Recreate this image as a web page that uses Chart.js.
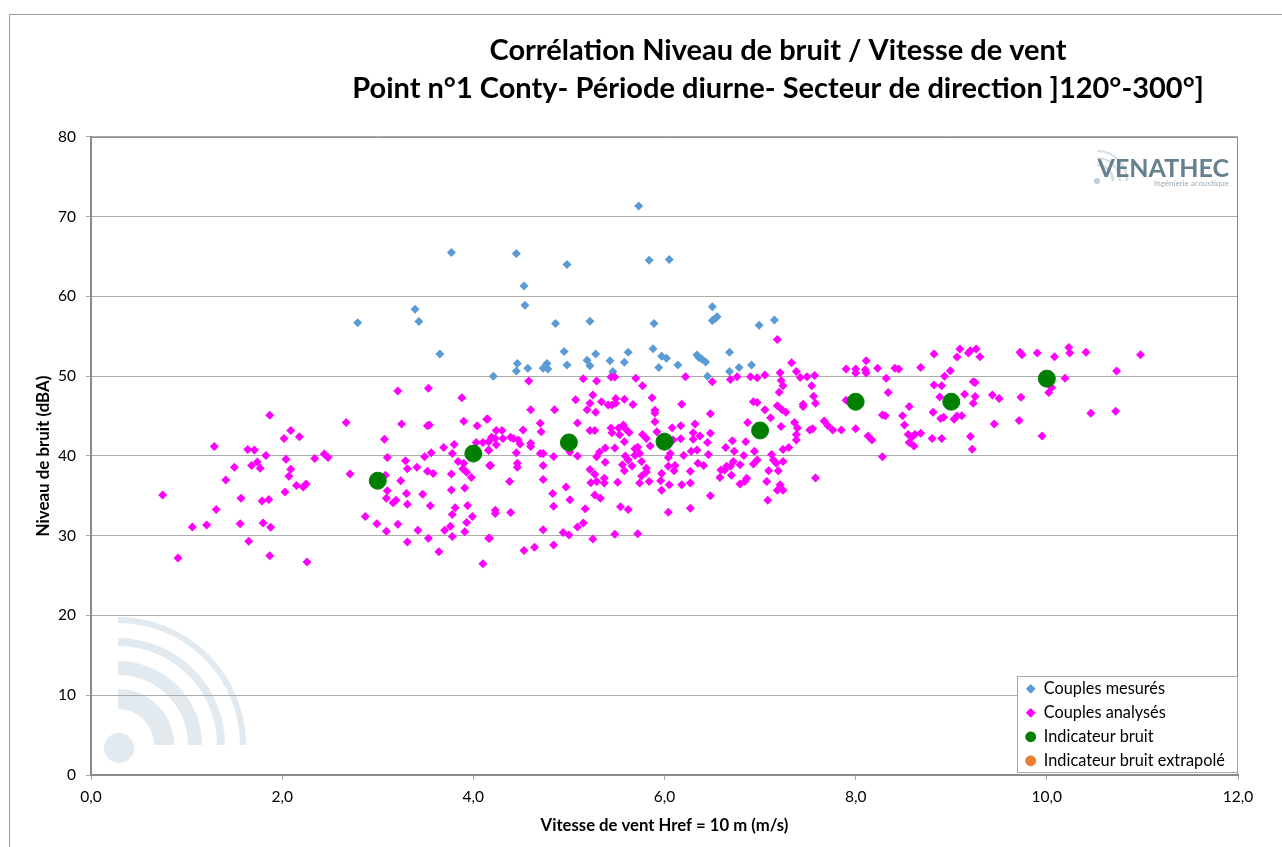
<!DOCTYPE html>
<html lang="fr">
<head>
<meta charset="utf-8">
<title>Corrélation Niveau de bruit / Vitesse de vent</title>
<style>
  html, body { margin: 0; padding: 0; background: #fff; overflow: hidden; }
  canvas { display: block; }
</style>
</head>
<body>
<canvas id="graphique" width="1282" height="847"></canvas>
<script src="https://cdn.jsdelivr.net/npm/chart.js@4"></script>
<script>
// Textes du graphique
const titre = ['Corrélation Niveau de bruit / Vitesse de vent', 'Point n°1 Conty- Période diurne- Secteur de direction ]120°-300°]'];
const titreAxeX = 'Vitesse de vent Href = 10 m (m/s)';
const titreAxeY = 'Niveau de bruit (dBA)';
const nomsSeries = ['Couples mesurés', 'Couples analysés', 'Indicateur bruit', 'Indicateur bruit extrapolé'];

// Couples [vitesse, niveau]
const couplesMesures = [
  [5.73,71.35],[3.77,65.5],[4.45,65.4],[5.84,64.55],[6.05,64.65],[4.98,64.0],[4.53,61.3],[4.54,58.9],
  [3.39,58.4],[2.79,56.7],[3.43,56.85],[4.86,56.6],[5.22,56.9],[5.89,56.6],[6.50,58.7],[6.50,57.0],
  [6.53,57.25],[6.55,57.45],[6.99,56.4],[7.15,57.05],[3.65,52.8],[4.21,50.0],[4.46,51.6],[4.45,50.65],
  [4.57,51.0],[4.73,51.0],[4.77,51.6],[4.78,50.9],[4.95,53.1],[4.98,51.4],[5.19,52.0],[5.22,51.3],
  [5.28,52.8],[5.43,51.95],[5.46,50.6],[5.58,51.75],[5.62,53.0],[5.88,53.45],[5.97,52.5],[6.02,52.25],
  [5.94,51.1],[6.14,51.4],[6.34,52.65],[6.36,52.35],[6.39,52.15],[6.43,51.8],[6.45,50.0],[6.68,53.0],
  [6.68,50.6],[6.78,51.1],[6.91,51.4]
];

const couplesAnalysesBas = [
  [3.21,48.15],[3.53,48.5],[3.88,47.3],[1.87,45.1],[2.67,44.2],[3.25,44.0],[3.52,43.8],[3.54,43.9],
  [3.90,44.35],[4.04,43.8],[4.14,44.6],[2.09,43.2],[2.02,42.2],[2.18,42.4],[3.07,42.1],[1.29,41.2],
  [1.64,40.8],[1.71,40.75],[1.83,40.05],[2.04,39.6],[2.34,39.7],[2.44,40.25],[2.48,39.8],[3.10,39.8],
  [3.29,39.4],[3.49,39.9],[3.56,40.4],[3.69,41.05],[3.80,41.45],[3.78,40.3],[4.03,41.7],[4.10,41.7],
  [4.16,40.75],[3.84,39.3],[3.90,39.1],[3.89,38.4],[3.93,37.95],[3.98,37.3],[3.77,37.75],[3.52,38.1],
  [3.58,37.8],[3.41,38.6],[3.31,38.4],[4.17,38.8],[1.50,38.6],[1.74,39.25],[1.68,38.8],[1.77,38.45],
  [2.09,38.35],[2.07,37.45],[1.41,37.0],[2.71,37.75],[3.24,36.9],[3.08,37.6],[3.10,35.65],[3.09,34.7],
  [3.19,34.45],[3.16,34.15],[3.30,35.3],[3.31,33.95],[3.47,35.2],[3.55,33.75],[3.77,35.75],[3.91,36.0],
  [3.81,33.5],[3.94,33.8],[3.78,32.65],[3.99,32.4],[3.93,31.65],[3.76,31.2],[3.70,30.7],[3.91,30.5],
  [3.78,29.9],[4.16,29.7],[3.42,30.7],[3.53,29.7],[3.31,29.2],[3.64,28.0],[4.10,26.5],[2.87,32.4],
  [2.99,31.5],[3.09,30.55],[3.21,31.45],[2.15,36.3],[2.22,36.1],[2.25,36.5],[2.03,35.5],[1.57,34.7],
  [1.79,34.35],[1.86,34.55],[1.31,33.3],[0.75,35.1],[1.06,31.1],[1.21,31.35],[1.56,31.5],[1.80,31.6],
  [1.88,31.05],[1.65,29.3],[0.91,27.2],[1.87,27.5],[2.26,26.7]
];

const couplesAnalysesMilieu = [
  [4.58,49.4],[5.15,49.7],[5.29,49.4],[5.44,49.9],[5.48,49.9],[5.70,49.75],[5.77,48.8],[6.22,49.95],
  [6.50,49.3],[6.69,49.6],[6.76,49.95],[6.90,49.95],[6.97,49.8],[7.05,50.15],[7.21,50.45],[7.33,51.7],
  [7.38,50.6],[7.42,49.85],[7.49,49.95],[7.57,50.1],[7.22,49.45],[7.24,48.8],[7.20,48.0],[7.54,48.8],
  [7.56,47.5],[7.58,46.6],[5.25,47.65],[5.07,47.05],[5.22,46.6],[5.19,45.8],[5.28,45.5],[5.34,46.8],
  [5.41,46.4],[5.45,46.4],[5.49,47.2],[5.49,46.6],[5.58,47.1],[5.67,46.45],[5.87,47.3],[5.90,45.75],
  [5.90,45.4],[5.90,44.3],[5.92,43.05],[6.18,46.5],[6.48,45.3],[6.93,46.8],[6.97,46.7],[7.05,45.8],
  [7.18,46.3],[7.23,45.8],[7.27,45.5],[7.11,44.8],[6.87,44.2],[7.45,46.5],[7.45,46.2],[7.67,44.4],
  [7.71,43.8],[7.36,44.2],[7.39,43.5],[7.22,43.7],[7.38,42.7],[7.38,42.0],[7.52,43.25],[7.55,43.4],
  [4.60,45.8],[4.85,45.8],[4.15,44.65],[4.70,44.1],[4.71,43.05],[4.52,43.25],[5.09,44.15],[5.22,43.2],
  [5.27,43.2],[4.24,43.2],[4.30,43.2],[4.19,42.35],[4.23,42.2],[4.16,41.8],[4.31,42.2],[4.39,42.35],
  [4.42,42.2],[4.47,42.0],[4.49,41.5],[4.24,41.4],[4.16,40.7],[4.45,40.4],[4.60,41.6],[4.60,41.2],
  [4.70,40.3],[4.73,40.3],[4.84,39.95],[5.01,40.5],[5.09,40.0],[4.18,38.8],[4.46,39.1],[4.46,38.6],
  [4.73,38.8],[4.73,37.05],[4.38,36.8],[4.97,36.1],[4.83,35.3],[5.01,34.5],[4.84,33.7],[4.23,33.2],
  [4.23,32.8],[4.39,32.9],[4.73,30.75],[4.94,30.4],[5.00,30.1],[5.09,31.1],[5.15,31.6],[5.17,33.4],
  [5.27,35.1],[5.33,34.7],[5.23,36.65],[5.29,36.8],[5.37,37.2],[5.37,36.6],[5.22,38.3],[5.27,37.7],
  [5.29,39.9],[5.32,40.5],[5.38,41.0],[5.48,41.0],[5.38,39.2],[5.51,36.7],[5.44,43.5],[5.45,42.9],
  [5.52,43.5],[5.57,43.9],[5.53,42.65],[5.58,41.8],[5.63,42.95],[5.59,43.4],[5.77,42.7],[5.81,42.2],
  [5.85,41.25],[5.69,40.9],[5.72,41.1],[5.74,40.3],[5.69,40.1],[5.59,40.0],[5.62,39.5],[5.56,38.9],
  [5.66,38.75],[5.58,38.15],[5.76,39.3],[5.81,38.45],[5.81,38.0],[5.76,37.5],[5.74,36.6],[5.84,36.8],
  [6.08,43.55],[6.17,43.8],[6.17,42.15],[6.09,42.0],[6.06,40.3],[6.04,39.8],[6.20,40.05],[6.04,38.7],
  [6.11,38.8],[6.10,38.15],[5.97,37.8],[5.96,36.9],[6.05,36.4],[5.97,35.7],[6.18,36.4],[6.27,36.6],
  [6.27,38.1],[6.32,44.0],[6.30,42.9],[6.37,42.5],[6.30,42.1],[6.48,42.85],[6.45,41.7],[6.28,40.6],
  [6.34,40.75],[6.46,40.2],[6.35,39.1],[6.41,38.8],[6.48,35.0],[6.27,33.45],[6.04,32.95],[5.54,33.65],
  [5.62,33.3],[5.48,30.2],[5.72,30.25],[5.25,29.6],[4.84,28.85],[4.17,29.7],[4.53,28.15],[4.64,28.55],
  [6.71,41.9],[6.64,41.05],[6.85,41.8],[6.73,40.6],[6.94,40.6],[6.83,40.05],[6.59,38.25],[6.58,37.3],
  [6.63,38.25],[6.70,37.6],[6.69,38.7],[6.72,39.3],[6.79,38.9],[6.65,38.7],[6.97,39.5],[6.93,39.0],
  [6.79,36.5],[6.86,37.2],[6.84,36.8],[7.12,40.2],[7.14,39.5],[7.17,39.1],[7.24,39.3],[7.24,40.8],
  [7.30,41.05],[7.09,38.15],[7.19,38.15],[7.07,36.8],[7.21,36.4],[7.18,35.7],[7.24,35.7],[7.08,34.45],
  [7.58,37.25],[7.18,54.6]
];

const couplesAnalysesHaut = [
  [7.76,43.25],[7.85,43.25],[8.00,43.4],[8.13,42.5],[8.17,42.0],[8.28,39.9],[7.90,50.9],[8.00,50.9],
  [8.00,50.4],[8.11,51.95],[8.10,50.8],[8.11,50.4],[8.23,51.0],[8.32,49.75],[8.41,51.0],[8.45,50.9],
  [8.68,51.1],[8.34,47.95],[7.90,47.0],[8.56,46.2],[8.28,45.15],[8.31,45.05],[8.49,45.05],[8.51,43.9],
  [8.55,42.7],[8.62,42.7],[8.68,42.85],[8.59,42.4],[8.56,41.7],[8.61,41.25],[8.80,42.2],[8.90,42.2],
  [8.82,52.8],[9.09,53.4],[9.06,52.4],[9.18,52.9],[9.20,53.2],[9.26,53.4],[9.30,52.45],[8.99,50.7],
  [8.93,50.0],[8.82,48.9],[8.90,48.8],[8.88,47.4],[9.23,49.3],[9.25,49.2],[9.14,47.75],[9.25,47.45],
  [9.23,46.6],[8.81,45.5],[8.89,44.7],[8.92,44.85],[9.03,44.6],[9.06,45.0],[9.11,45.05],[9.43,47.65],
  [9.50,47.2],[9.73,47.35],[9.45,44.0],[9.71,44.45],[9.20,42.45],[9.22,40.85],[9.95,42.5],[9.72,53.0],
  [9.74,52.7],[9.90,52.9],[10.08,52.45],[10.23,53.6],[10.24,52.9],[10.41,53.0],[10.98,52.7],[10.73,50.65],
  [10.19,49.75],[10.05,48.6],[10.02,47.95],[10.46,45.35],[10.72,45.6]
];

const indicateurVitesse = [3, 4, 5, 6, 7, 8, 9, 10];
const indicateurNiveau = [36.9, 40.3, 41.7, 41.8, 43.2, 46.8, 46.8, 49.7];
const indicateurExtrapole = [];

const versPoints = couples => couples.map(c => ({ x: c[0], y: c[1] }));
const couplesAnalyses = [...couplesAnalysesBas, ...couplesAnalysesMilieu, ...couplesAnalysesHaut];

const POLICE = 'Lato';
const GRIS_AXE = '#8a8a8a';

// Cadre extérieur, filigrane et logo, sous les axes
const decor = {
  id: 'decor',
  beforeDraw(chart) {
    const c = chart.ctx;
    c.save();
    c.strokeStyle = '#9a9a9a';
    c.lineWidth = 1;
    c.beginPath();
    c.moveTo(9.5, 847);
    c.lineTo(9.5, 14.5);
    c.lineTo(1282, 14.5);
    c.stroke();

    // Ondes en bas à gauche
    c.strokeStyle = '#e2e9ef';
    [[125, 6], [103, 8], [77, 14], [46, 20]].forEach(([r, e]) => {
      c.lineWidth = e;
      c.beginPath();
      c.arc(118, 745, r, -Math.PI / 2, 0);
      c.stroke();
    });
    c.fillStyle = '#e2e9ef';
    c.beginPath();
    c.arc(119, 748, 15, 0, Math.PI * 2);
    c.fill();

    // Logo en haut à droite
    c.filter = 'blur(0.7px)';
    c.strokeStyle = '#d3dee6';
    [[30, 2], [23, 2], [16, 3]].forEach(([r, e]) => {
      c.lineWidth = e;
      c.beginPath();
      c.arc(1097, 181, r, -Math.PI / 2, 0);
      c.stroke();
    });
    c.fillStyle = '#bccbd6';
    c.beginPath();
    c.arc(1097, 181, 3, 0, Math.PI * 2);
    c.fill();
    c.fillStyle = '#67808f';
    c.textAlign = 'right';
    c.textBaseline = 'alphabetic';
    c.font = `bold 25px ${POLICE}`;
    c.fillText('VENATHEC', 1229, 177);
    c.fillStyle = '#9aabb8';
    c.font = `8px ${POLICE}`;
    c.fillText('Ingénierie acoustique', 1229, 186);
    c.restore();
  }
};

// Place le titre et la légende, puis trace le cadre de la zone de tracé
const miseEnPage = {
  id: 'miseEnPage',
  afterLayout(chart) {
    chart.titleBlock.left = 318;
    chart.titleBlock.right = 1238;

    // Le bas reste large : la légende passe en colonne suivante si elle déborde
    const l = chart.legend;
    l.left = 1018;
    l.top = 673;
    l.right = 1237;
    l.bottom = 847;
  },
  afterDatasetsDraw(chart) {
    const c = chart.ctx;
    const zone = chart.chartArea;
    c.save();
    c.strokeStyle = GRIS_AXE;
    c.lineWidth = 1;
    c.beginPath();
    c.moveTo(zone.left, zone.top + 0.5);
    c.lineTo(zone.right - 0.5, zone.top + 0.5);
    c.lineTo(zone.right - 0.5, zone.bottom);
    c.stroke();
    c.fillStyle = '#fff';
    c.fillRect(1017.5, 676.5, 220, 96);
    c.strokeStyle = '#a6a6a6';
    c.strokeRect(1017.5, 676.5, 220, 96);
    c.restore();
    chart.legend.draw();
  }
};

const ctx = document.getElementById('graphique').getContext('2d');

new Chart(ctx, {
  type: 'scatter',
  plugins: [decor, miseEnPage],
  data: {
    // Ordre inversé : la première série est dessinée au-dessus des autres
    datasets: [
      {
        label: nomsSeries[3],
        data: indicateurExtrapole,
        pointStyle: 'circle',
        pointRadius: 8.5,
        backgroundColor: '#ED7D31',
        borderColor: '#ED7D31'
      },
      {
        label: nomsSeries[2],
        data: indicateurVitesse.map((v, i) => ({ x: v, y: indicateurNiveau[i] })),
        pointStyle: 'circle',
        pointRadius: 8.5,
        backgroundColor: '#007F00',
        borderColor: '#007F00'
      },
      {
        label: nomsSeries[1],
        data: versPoints(couplesAnalyses),
        pointStyle: 'rectRot',
        pointRadius: 4.5,
        borderWidth: 0,
        backgroundColor: '#FF00FF',
        borderColor: '#FF00FF'
      },
      {
        label: nomsSeries[0],
        data: versPoints(couplesMesures),
        pointStyle: 'rectRot',
        pointRadius: 4.5,
        borderWidth: 0,
        backgroundColor: '#5B9BD5',
        borderColor: '#5B9BD5'
      }
    ]
  },
  options: {
    responsive: false,
    animation: false,
    events: [],
    layout: { padding: { left: 0, right: 44, top: 0, bottom: 0 } },
    plugins: {
      tooltip: { enabled: false },
      title: {
        display: true,
        text: titre,
        color: '#000',
        font: { family: POLICE, size: 29, weight: 'bold', lineHeight: 1.31 },
        padding: { top: 32, bottom: 29 }
      },
      legend: {
        display: true,
        position: 'chartArea',
        align: 'start',
        reverse: true,
        labels: {
          usePointStyle: true,
          boxWidth: 10,
          boxHeight: 7,
          padding: 7.7,
          color: '#000',
          font: { family: POLICE, size: 16.3 }
        }
      }
    },
    scales: {
      x: {
        type: 'linear',
        min: 0,
        max: 12,
        afterFit(s) { s.height = 72; },
        title: {
          display: true,
          text: titreAxeX,
          color: '#000',
          font: { family: POLICE, size: 16.7, weight: 'bold' },
          padding: { top: 10, bottom: 11 }
        },
        border: { color: GRIS_AXE, width: 2 },
        grid: { drawOnChartArea: false, drawTicks: true, tickLength: 5, color: '#a6a6a6' },
        ticks: {
          stepSize: 2,
          color: '#000',
          padding: 8,
          maxRotation: 0,
          font: { family: POLICE, size: 15.5 },
          callback: v => v.toFixed(1).replace('.', ',')
        }
      },
      y: {
        min: 0,
        max: 80,
        afterFit(s) { s.width = 91; },
        title: {
          display: true,
          text: titreAxeY,
          color: '#000',
          font: { family: POLICE, size: 16.9, weight: 'bold' },
          padding: { top: 33, bottom: 0 }
        },
        border: { color: GRIS_AXE, width: 2 },
        grid: { color: '#ababab', lineWidth: 1, tickLength: 5 },
        ticks: {
          stepSize: 10,
          color: '#000',
          padding: 10,
          font: { family: POLICE, size: 15.5 }
        }
      }
    }
  }
});
</script>
</body>
</html>
